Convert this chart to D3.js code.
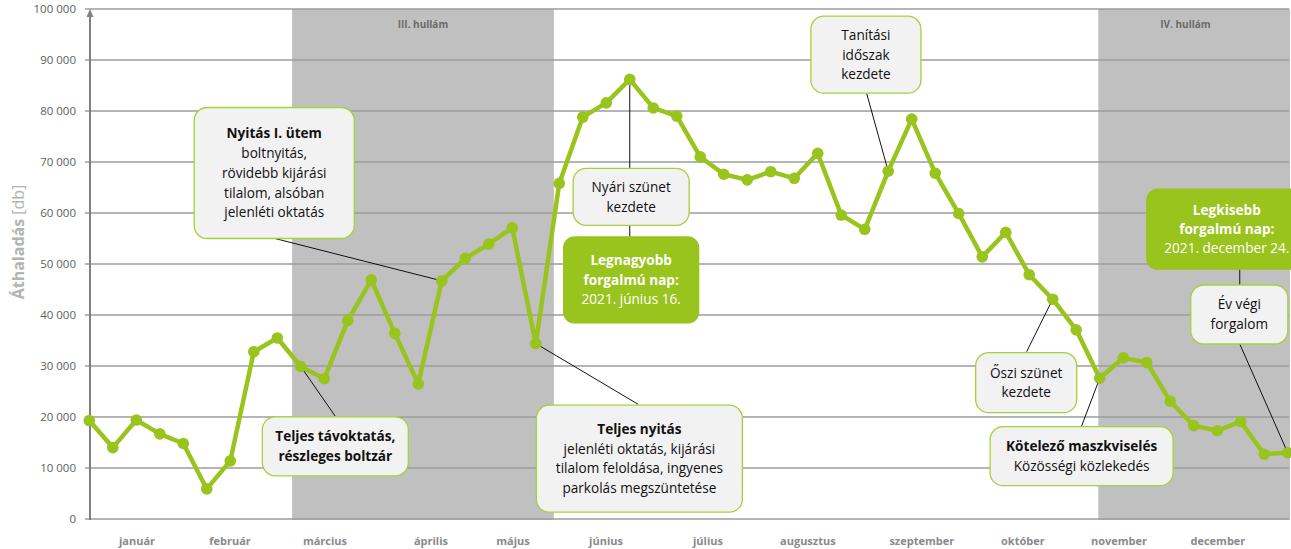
<!DOCTYPE html>
<html>
<head>
<meta charset="utf-8">
<script src="https://cdn.jsdelivr.net/npm/d3@7"></script>
<style>
  body { margin: 0; background: #fff; }
  svg { display: block; font-family: "Open Sans", "Noto Sans", sans-serif; }
</style>
</head>
<body>
<div id="chart"></div>
<script>
// weekly traffic, 2021
const traffic = [
    19300, 14000, 19400, 16700, 14800, 5900, 11400, 32800, 35500, 29900,
    27500, 38900, 46900, 36400, 26500, 46700, 51100, 53900, 57100, 34400,
    65800, 78800, 81600, 86200, 80600, 79000, 71000, 67600, 66500, 68100,
    66800, 71700, 59600, 56800, 68200, 78400, 67800, 59900, 51400, 56200,
    47900, 43100, 37100, 27600, 31600, 30700, 23100, 18300, 17300, 19100,
    12700, 13000
];
const months = ['január', 'február', 'március', 'április', 'május', 'június',
    'július', 'augusztus', 'szeptember', 'október', 'november', 'december'];
// label position in week units
const monthPos = [2.03, 5.99, 10.03, 14.54, 18.03, 21.99, 26.33, 30.58, 35.43, 39.73, 43.82, 48.03];
const yTicks = d3.range(0, 100001, 10000);
const waves = [
    {label: 'III. hullám', from: 8.63, to: 19.77, labelAt: 14.2},
    {label: 'IV. hullám', from: 42.94, to: 51.1, labelAt: 46.65}
];

const width = 1291, height = 549;
const margin = {left: 89.3, right: 3.3, top: 9, bottom: 30};

const x = d3.scaleLinear().domain([0, traffic.length - 1]).range([margin.left, width - margin.right]);
const y = d3.scaleLinear().domain([0, 100000]).range([height - margin.bottom, margin.top]);

const green = '#99c31d';
const fmt = d => d3.format(',')(d).replace(/,/g, ' ');

// annotations: box center in [week, value], size in px
const notes = [
    {c: [7.87, 67843], w: 160, h: 131, lines: [['Nyitás I. ütem', 1], ['boltnyitás,'], ['rövidebb kijárási'], ['tilalom, alsóban'], ['jelenléti oktatás']], path: [[7.82, 55098], 15]},
    {c: [10.47, 14255], w: 146, h: 59, lines: [['Teljes távoktatás,', 1], ['részleges boltzár', 1]], path: [[10.46, 20196], 9]},
    {c: [23.41, 11824], w: 206, h: 107, lines: [['Teljes nyitás', 1], ['jelenléti oktatás, kijárási'], ['tilalom feloldása, ingyenes'], ['parkolás megszüntetése']], path: [[23.36, 22490], 19]},
    {c: [23.06, 63176], w: 116, h: 57, lines: [['Nyári szünet'], ['kezdete']], path: [[23.0, 46000], 23]},
    {c: [23.06, 46882], w: 135, h: 86, green: true, lines: [['Legnagyobb', 1], ['forgalmú nap:', 1], ['2021. június 16.']]},
    {c: [33.05, 91039], w: 110, h: 77, lines: [['Tanítási'], ['időszak'], ['kezdete']], path: [[33.08, 83471], 34]},
    {c: [39.87, 26725], w: 101, h: 60, lines: [['Őszi szünet'], ['kezdete']], path: [[39.89, 32804], 41]},
    {c: [42.23, 12314], w: 183, h: 59, lines: [['Kötelező maszkviselés', 1], ['Közösségi  közlekedés']], path: [[42.23, 18235], 43]},
    {c: [48.94, 40098], w: 97, h: 59, lines: [['Év végi'], ['forgalom']], path: [[48.96, 50784], [48.96, 34314], 51]},
    {c: [48.41, 56824], w: 160, h: 80, green: true, lines: [['Legkisebb', 1], ['forgalmú nap:', 1], ['2021. december  24.']]}
];

const svg = d3.select('#chart').append('svg')
    .attr('width', width)
    .attr('height', height);

// shaded waves
svg.append('g').selectAll('rect')
    .data(waves)
    .enter().append('rect')
    .attr('x', d => x(d.from))
    .attr('width', d => x(d.to) - x(d.from))
    .attr('y', y(100000))
    .attr('height', y(0) - y(100000) + 1)
    .attr('fill', '#c0c0c0');

svg.append('g').selectAll('text')
    .data(waves)
    .enter().append('text')
    .attr('x', d => x(d.labelAt))
    .attr('y', 28)
    .attr('text-anchor', 'middle')
    .style('font-size', '10px')
    .style('font-weight', 'bold')
    .style('fill', '#6b6b6b')
    .text(d => d.label);

// grid
svg.append('g').selectAll('line')
    .data(yTicks)
    .enter().append('line')
    .attr('x1', 85)
    .attr('x2', width - 2)
    .attr('y1', d => y(d))
    .attr('y2', d => y(d))
    .attr('stroke', '#9c9c9c')
    .attr('stroke-width', 1.3);

// y axis
const yAxis = d3.axisLeft(y).tickValues(yTicks).tickFormat(fmt).tickSize(0).tickPadding(14);
const ya = svg.append('g').attr('transform', 'translate(90,0)').call(yAxis);
ya.select('.domain').remove();
ya.selectAll('text')
    .style('font-size', '11.5px')
    .style('fill', '#606060')
    .style('font-family', '"Open Sans", sans-serif');

svg.append('line')
    .attr('x1', 90).attr('x2', 90)
    .attr('y1', y(0) + 1).attr('y2', y(100000) + 2)
    .attr('stroke', '#808080')
    .attr('stroke-width', 2);
svg.append('path')
    .attr('d', `M90,${y(100000)} l-3.5,8 h7 z`)
    .attr('fill', '#808080');

// month labels
svg.append('g').selectAll('text')
    .data(months)
    .enter().append('text')
    .attr('x', (d, i) => x(monthPos[i]))
    .attr('y', 545)
    .attr('text-anchor', 'middle')
    .style('font-size', '11px')
    .style('font-weight', 'bold')
    .style('fill', '#8a8a8a')
    .text(d => d);

// y title
const yt = svg.append('text')
    .attr('transform', 'translate(24,242) rotate(-90)')
    .attr('text-anchor', 'middle')
    .style('font-size', '16px')
    .style('fill', '#b3b3b3');
yt.append('tspan').style('font-weight', 'bold').text('Áthaladás');
yt.append('tspan').text(' [db]');

// connectors
const pt = p => typeof p === 'number' ? [x(p), y(traffic[p])] : [x(p[0]), y(p[1])];
svg.append('g').selectAll('path')
    .data(notes.filter(n => n.path))
    .enter().append('path')
    .attr('d', d => d3.line()(d.path.map(pt)))
    .attr('fill', 'none')
    .attr('stroke', '#111')
    .attr('stroke-width', 1);

// line
svg.append('path')
    .datum(traffic)
    .attr('d', d3.line().x((d, i) => x(i)).y(d => y(d)))
    .attr('fill', 'none')
    .attr('stroke', green)
    .attr('stroke-width', 4.5)
    .attr('stroke-linejoin', 'round');

svg.append('g').selectAll('circle')
    .data(traffic)
    .enter().append('circle')
    .attr('cx', (d, i) => x(i))
    .attr('cy', d => y(d))
    .attr('r', 5.8)
    .attr('fill', green);

// boxes
const box = svg.append('g').selectAll('g')
    .data(notes)
    .enter().append('g')
    .attr('transform', d => `translate(${x(d.c[0])},${y(d.c[1])})`);

box.append('rect')
    .attr('x', d => -d.w / 2)
    .attr('y', d => -d.h / 2)
    .attr('width', d => d.w)
    .attr('height', d => d.h)
    .attr('rx', d => d.green ? 11 : 13)
    .attr('fill', d => d.green ? green : '#f2f2f2')
    .attr('stroke', d => d.green ? green : '#a9cf3c')
    .attr('stroke-width', 1.3);

box.each(function (d) {
    const lh = d.green ? 19.5 : 19.8;
    const t = d3.select(this).append('text')
        .attr('text-anchor', 'middle')
        .style('font-size', '13.6px')
        .style('fill', d.green ? '#fff' : '#111');
    const n = d.lines.length;
    d.lines.forEach((l, i) => {
        t.append('tspan')
            .attr('x', 0)
            .attr('y', (i - (n - 1) / 2) * lh + 4.8)
            .style('font-weight', l[1] ? 'bold' : 'normal')
            .text(l[0]);
    });
});
</script>
</body>
</html>
